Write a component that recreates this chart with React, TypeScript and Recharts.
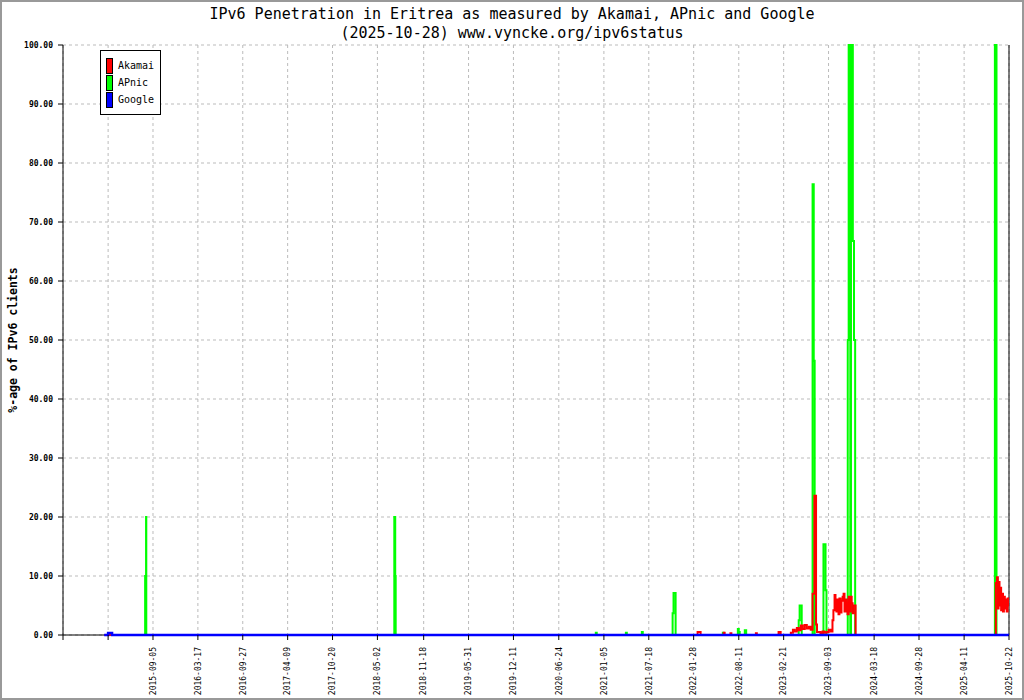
import { LineChart, Line, XAxis, YAxis, CartesianGrid, ReferenceLine } from "recharts";

// [date, % of IPv6 clients]
const akamai: [string, number][] = [
  ["2015-02-06", 0], ["2015-02-25", 0.3], ["2015-03-05", 0],
  ["2022-02-14", 0.5], ["2022-02-27", 0],
  ["2022-06-07", 0.4], ["2022-06-11", 0],
  ["2022-07-06", 0.3], ["2022-07-10", 0],
  ["2022-10-24", 0.3], ["2022-10-28", 0],
  ["2023-01-30", 0.5], ["2023-02-08", 0],
  ["2023-03-24", 0.4], ["2023-04-02", 0.9], ["2023-04-10", 0.6], ["2023-04-19", 1.2],
  ["2023-04-27", 0.8], ["2023-05-06", 1.6], ["2023-05-14", 1.0], ["2023-05-23", 1.7],
  ["2023-06-01", 1.1], ["2023-06-10", 1.4], ["2023-06-18", 0.9],
  ["2023-06-26", 7.0], ["2023-07-04", 23.6], ["2023-07-11", 1.8], ["2023-07-15", 0.5],
  ["2023-07-30", 0.3], ["2023-08-08", 0.6], ["2023-08-16", 0.4], ["2023-08-25", 0.5],
  ["2023-09-03", 0.9], ["2023-09-12", 0.6],
  ["2023-09-20", 2.5], ["2023-09-24", 4.2], ["2023-09-29", 6.8], ["2023-10-03", 4.5],
  ["2023-10-07", 4.0], ["2023-10-11", 6.0], ["2023-10-16", 3.5], ["2023-10-20", 6.2],
  ["2023-10-25", 3.8], ["2023-10-29", 5.8], ["2023-11-03", 6.5], ["2023-11-07", 7.0],
  ["2023-11-11", 4.0], ["2023-11-16", 6.0], ["2023-11-20", 5.5], ["2023-11-24", 3.5],
  ["2023-11-29", 6.5], ["2023-12-03", 4.0], ["2023-12-07", 6.5], ["2023-12-12", 5.4],
  ["2023-12-16", 3.7], ["2023-12-20", 5.0], ["2023-12-29", 0],
  ["2025-08-26", 8.8], ["2025-08-31", 9.8], ["2025-09-04", 4.5], ["2025-09-07", 9.0],
  ["2025-09-11", 5.0], ["2025-09-14", 8.0], ["2025-09-18", 4.2], ["2025-09-22", 7.0],
  ["2025-09-26", 4.0], ["2025-09-30", 6.5], ["2025-10-04", 4.5], ["2025-10-08", 6.0],
  ["2025-10-12", 4.0], ["2025-10-16", 6.2], ["2025-10-20", 5.0], ["2025-10-22", 5.5],
];

const apnic: [string, number][] = [
  ["2015-02-06", 0],
  ["2015-08-02", 10], ["2015-08-06", 20], ["2015-08-07", 0],
  ["2018-07-14", 20], ["2018-07-18", 10], ["2018-07-20", 0],
  ["2020-12-01", 0.4], ["2020-12-05", 0],
  ["2021-04-10", 0.4], ["2021-04-14", 0],
  ["2021-06-18", 0.5], ["2021-06-22", 0],
  ["2021-10-29", 3.7], ["2021-11-02", 7.1], ["2021-11-11", 0],
  ["2022-06-03", 0.4], ["2022-06-07", 0],
  ["2022-08-07", 1.0], ["2022-08-11", 0.5], ["2022-08-15", 0],
  ["2022-09-06", 0.8], ["2022-09-12", 0],
  ["2023-04-27", 2.5], ["2023-05-01", 5.0], ["2023-05-10", 0],
  ["2023-06-26", 76.4], ["2023-07-01", 46.5], ["2023-07-05", 0],
  ["2023-08-12", 15.4], ["2023-08-21", 7.6], ["2023-08-25", 0],
  ["2023-11-25", 50], ["2023-11-29", 100], ["2023-12-06", 0], ["2023-12-09", 100],
  ["2023-12-17", 66.8], ["2023-12-22", 50], ["2023-12-27", 0],
  ["2025-08-22", 100], ["2025-08-29", 0],
  ["2025-10-22", 0],
];

const google: [string, number][] = [
  ["2015-02-06", 0], ["2015-02-23", 0.35], ["2015-03-12", 0], ["2025-10-22", 0],
];

const unlabeledTicks = ["2014-08-12", "2015-02-23"];
const tickLabels = [
  "2015-09-05", "2016-03-17", "2016-09-27", "2017-04-09", "2017-10-20",
  "2018-05-02", "2018-11-18", "2019-05-31", "2019-12-11", "2020-06-24",
  "2021-01-05", "2021-07-18", "2022-01-28", "2022-08-11", "2023-02-21",
  "2023-09-03", "2024-03-18", "2024-09-28", "2025-04-11", "2025-10-22",
];
const yTicks = [0, 10, 20, 30, 40, 50, 60, 70, 80, 90, 100];

const series = [
  { name: "Akamai", color: "#ff0000" },
  { name: "APnic", color: "#00ff00" },
  { name: "Google", color: "#0000ff" },
];

const toDay = (s: string) => {
  const [y, m, d] = s.split("-").map(Number);
  return Date.UTC(y, m - 1, d) / 86400000;
};
const fromDay = (n: number) => new Date(n * 86400000).toISOString().slice(0, 10);
const toPoints = (rows: [string, number][]) => rows.map(([d, v]) => ({ t: toDay(d), v }));

const mono = "'DejaVu Sans Mono', monospace";
const allTicks = [...unlabeledTicks, ...tickLabels].map(toDay);
const domain = [toDay(unlabeledTicks[0]), toDay(tickLabels[tickLabels.length - 1])];

const XTick = ({ x, y, payload }: any) => {
  const label = fromDay(payload.value);
  if (unlabeledTicks.includes(label)) return null;
  return (
    <text
      x={x}
      y={y}
      dx={-5}
      dy="0.35em"
      transform={`rotate(-90 ${x} ${y})`}
      textAnchor="end"
      fontFamily={mono}
      fontSize={8}
      fill="#000"
    >
      {label}
    </text>
  );
};

const LegendBox = () => (
  <div
    style={{
      position: "absolute",
      left: 98,
      top: 48,
      border: "1px solid #000",
      background: "#fff",
      width: 61,
      height: 65,
      padding: "6px 0 0 5px",
      fontFamily: mono,
      fontSize: 10,
      boxSizing: "border-box",
    }}
  >
    {series.map((s) => (
      <div key={s.name} style={{ display: "flex", alignItems: "center", height: 17 }}>
        <span
          style={{
            width: 5,
            height: 14,
            background: s.color,
            border: "1px solid #000",
            marginRight: 5,
          }}
        />
        <span>{s.name}</span>
      </div>
    ))}
  </div>
);

export default function App() {
  return (
    <div
      style={{
        position: "absolute",
        left: 0,
        top: 0,
        width: 1024,
        height: 700,
        border: "2px solid #999",
        boxSizing: "border-box",
        background: "#fff",
      }}
    >
      <div
        style={{
          position: "absolute",
          left: -2,
          top: 3,
          width: 1024,
          textAlign: "center",
          fontFamily: mono,
          fontSize: 15,
          lineHeight: "19px",
          color: "#000",
        }}
      >
        <div>IPv6 Penetration in Eritrea as measured by Akamai, APnic and Google</div>
        <div>(2025-10-28) www.vyncke.org/ipv6status</div>
      </div>
      <div style={{ position: "absolute", left: -2, top: -2 }}>
        <LineChart width={1024} height={700} margin={{ top: 45, right: 15, bottom: 0, left: 0 }}>
          <CartesianGrid strokeDasharray="3 3" stroke="#bbb" />
          <XAxis
            dataKey="t"
            type="number"
            domain={domain}
            ticks={allTicks}
            allowDataOverflow
            interval={0}
            tick={<XTick />}
            tickSize={5}
            height={65}
            stroke="#000"
            axisLine={false}
          />
          <YAxis
            dataKey="v"
            domain={[0, 100]}
            ticks={yTicks}
            width={63}
            tickSize={5}
            tickMargin={5}
            interval={0}
            stroke="#000"
            tickFormatter={(v: number) => v.toFixed(2)}
            tick={{ fontFamily: mono, fontSize: 8, fontWeight: "bold", fill: "#000" }}
            label={{
              value: "%-age of IPv6 clients",
              angle: -90,
              position: "insideLeft",
              offset: 13,
              style: { fontFamily: mono, fontSize: 11.5, fontWeight: "bold", fill: "#000", textAnchor: "middle" },
            }}
          />
          <ReferenceLine y={0} stroke="#000" />
          <ReferenceLine x={domain[1]} stroke="#000" />
          <Line data={toPoints(apnic)} dataKey="v" name="APnic" type="stepAfter" stroke="#00ff00" strokeWidth={2} dot={false} isAnimationActive={false} />
          <Line data={toPoints(akamai)} dataKey="v" name="Akamai" type="stepAfter" stroke="#ff0000" strokeWidth={2} dot={false} isAnimationActive={false} />
          <Line data={toPoints(google)} dataKey="v" name="Google" type="stepAfter" stroke="#0000ff" strokeWidth={2.5} dot={false} isAnimationActive={false} />
        </LineChart>
      </div>
      <LegendBox />
    </div>
  );
}
